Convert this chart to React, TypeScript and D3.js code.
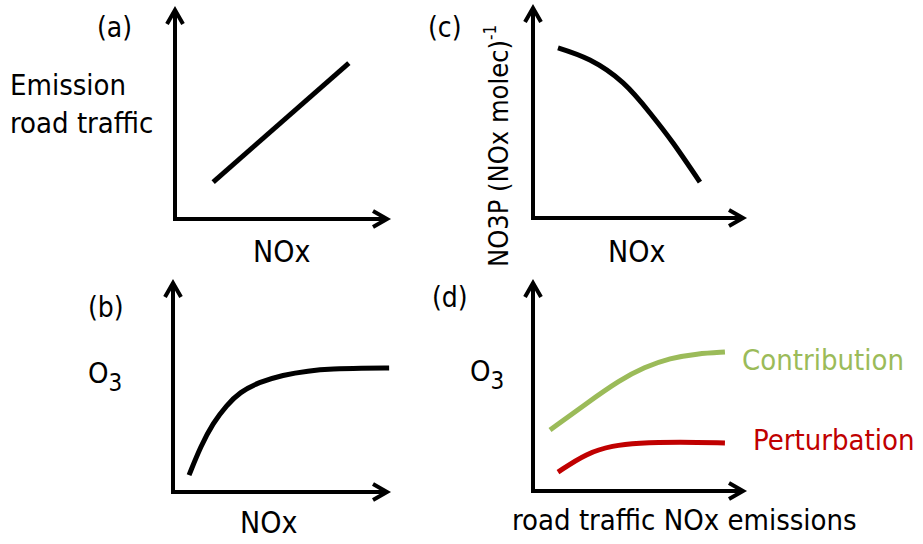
import React from 'react';
import * as d3 from 'd3';

// curve values, in axis units (0..10 on both axes)
const trafficX = [1.8, 8.2];
const trafficY = [1.77, 7.46];

const ozoneX = [0.75, 1.3, 1.87, 2.5, 3.13, 4.0, 5.14, 6.3, 7.48, 8.8, 10.1];
const ozoneY = [0.81, 2.2, 3.3, 4.15, 4.78, 5.25, 5.6, 5.8, 5.89, 5.92, 5.93];

const no3pX = [1.19, 2.71, 4.29, 5.57, 6.67, 7.95];
const no3pY = [8.1, 7.52, 6.43, 5.0, 3.57, 1.71];

const contribX = [0.81, 2.57, 4.14, 5.3, 6.52, 7.8, 9.14];
const contribY = [2.93, 4.23, 5.34, 5.95, 6.39, 6.6, 6.68];

const perturbX = [1.19, 2.57, 3.8, 4.95, 7.0, 9.14];
const perturbY = [0.91, 1.83, 2.18, 2.31, 2.36, 2.31];

const seriesNames = ['Contribution', 'Perturbation'];
const seriesColors = ['#9BBB59', '#C00000'];

const FONT = '"DejaVu Sans Condensed", "DejaVu Sans", sans-serif';

type Frame = { ox: number; oy: number; xEnd: number; yTop: number };

const zip = (xs: number[], ys: number[]) => xs.map((x, i) => [x, ys[i]] as [number, number]);

const Axes = ({ f }: { f: Frame }) => {
  const a = 14;
  const b = 8;
  return (
    <g stroke="#000" strokeWidth={4} fill="none" strokeLinecap="butt" strokeLinejoin="miter">
      <path d={`M${f.ox},${f.oy} L${f.ox},${f.yTop + 2}`} />
      <path d={`M${f.ox - 2},${f.oy} L${f.xEnd - 2},${f.oy}`} />
      <path d={`M${f.ox - b},${f.yTop + a} L${f.ox},${f.yTop} L${f.ox + b},${f.yTop + a}`} />
      <path d={`M${f.xEnd - a},${f.oy - b} L${f.xEnd},${f.oy} L${f.xEnd - a},${f.oy + b}`} />
    </g>
  );
};

const Curve = ({ f, xs, ys, color, width = 5, curve = d3.curveMonotoneX }: any) => {
  const x = d3.scaleLinear().domain([0, 10]).range([f.ox, f.xEnd]);
  const y = d3.scaleLinear().domain([0, 10]).range([f.oy, f.yTop]);
  const line = d3
    .line<[number, number]>()
    .x((d) => x(d[0]))
    .y((d) => y(d[1]))
    .curve(curve);
  return <path d={line(zip(xs, ys)) || ''} fill="none" stroke={color} strokeWidth={width} />;
};

const O3 = ({ x, y }: { x: number; y: number }) => (
  <text x={x} y={y} fontSize={29}>
    O<tspan fontSize={24} dy={8}>3</tspan>
  </text>
);

export default function App() {
  const fa: Frame = { ox: 175, oy: 219, xEnd: 387, yTop: 10 };
  const fb: Frame = { ox: 173, oy: 492, xEnd: 387, yTop: 283 };
  const fc: Frame = { ox: 533, oy: 218, xEnd: 743, yTop: 8 };
  const fd: Frame = { ox: 533, oy: 491, xEnd: 743, yTop: 283 };

  return (
    <svg
      width={923}
      height={544}
      style={{ position: 'absolute', left: 0, top: 0, background: '#fff' }}
      fontFamily={FONT}
    >
      {/* (a) */}
      <text x={97} y={37} fontSize={28}>(a)</text>
      <text x={10} y={95} fontSize={29}>Emission</text>
      <text x={10} y={133} fontSize={29}>road traffic</text>
      <Axes f={fa} />
      <Curve f={fa} xs={trafficX} ys={trafficY} color="#000" curve={d3.curveLinear} />
      <text x={253} y={262} fontSize={30}>NOx</text>

      {/* (b) */}
      <text x={88} y={317} fontSize={28}>(b)</text>
      <O3 x={88} y={383} />
      <Axes f={fb} />
      <Curve f={fb} xs={ozoneX} ys={ozoneY} color="#000" curve={d3.curveBasis} />
      <text x={240} y={533} fontSize={30}>NOx</text>

      {/* (c) */}
      <text x={428} y={37} fontSize={28}>(c)</text>
      <text transform="translate(508,267) rotate(-90)" fontSize={27}>
        NO3P (NOx molec)<tspan fontSize={17} dy={-12}>-1</tspan>
      </text>
      <Axes f={fc} />
      <Curve f={fc} xs={no3pX} ys={no3pY} color="#000" curve={d3.curveNatural} />
      <text x={608} y={262} fontSize={30}>NOx</text>

      {/* (d) */}
      <text x={432} y={307} fontSize={28}>(d)</text>
      <O3 x={470} y={381} />
      <Axes f={fd} />
      <Curve f={fd} xs={contribX} ys={contribY} color={seriesColors[0]} width={5} curve={d3.curveBasis} />
      <Curve f={fd} xs={perturbX} ys={perturbY} color={seriesColors[1]} width={5} curve={d3.curveBasis} />
      <text x={742} y={370} fontSize={29} fill={seriesColors[0]}>{seriesNames[0]}</text>
      <text x={753} y={450} fontSize={29} fill={seriesColors[1]}>{seriesNames[1]}</text>
      <text x={512} y={530} fontSize={29}>road traffic NOx emissions</text>
    </svg>
  );
}
